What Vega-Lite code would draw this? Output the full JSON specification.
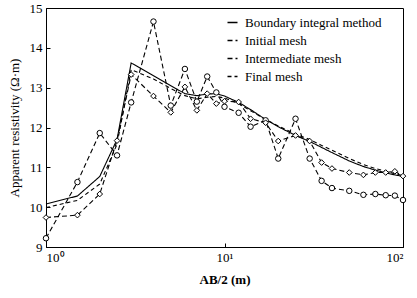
{
  "$schema": "https://vega.github.io/schema/vega-lite/v6.json",
  "width": 357,
  "height": 239,
  "autosize": "none",
  "padding": {"left": 46, "top": 8, "right": 14, "bottom": 51},
  "background": "white",
  "config": {
    "view": {"stroke": "black", "strokeWidth": 1},
    "font": "Liberation Serif",
    "axis": {"labelFont": "Liberation Serif", "titleFont": "Liberation Serif", "labelColor": "black", "titleColor": "black", "domainColor": "black", "tickColor": "black", "labelFontSize": 13, "titleFontSize": 13, "titleFontWeight": "normal", "grid": false, "tickSize": -4}
  },
  "datasets": {
    "d": [
      {"x": 1, "s": "Boundary integral method", "y": 10.08},
      {"x": 1.5, "s": "Boundary integral method", "y": 10.28},
      {"x": 2, "s": "Boundary integral method", "y": 10.77},
      {"x": 2.5, "s": "Boundary integral method", "y": 11.7},
      {"x": 3, "s": "Boundary integral method", "y": 13.62},
      {"x": 4, "s": "Boundary integral method", "y": 13.3},
      {"x": 5, "s": "Boundary integral method", "y": 13.05},
      {"x": 6, "s": "Boundary integral method", "y": 12.85},
      {"x": 7, "s": "Boundary integral method", "y": 12.8},
      {"x": 8, "s": "Boundary integral method", "y": 12.84},
      {"x": 9, "s": "Boundary integral method", "y": 12.85},
      {"x": 10, "s": "Boundary integral method", "y": 12.79},
      {"x": 12, "s": "Boundary integral method", "y": 12.63},
      {"x": 14, "s": "Boundary integral method", "y": 12.45},
      {"x": 17, "s": "Boundary integral method", "y": 12.2},
      {"x": 20, "s": "Boundary integral method", "y": 12.02},
      {"x": 25, "s": "Boundary integral method", "y": 11.8},
      {"x": 30, "s": "Boundary integral method", "y": 11.65},
      {"x": 35, "s": "Boundary integral method", "y": 11.5},
      {"x": 40, "s": "Boundary integral method", "y": 11.37},
      {"x": 50, "s": "Boundary integral method", "y": 11.16},
      {"x": 60, "s": "Boundary integral method", "y": 11.02},
      {"x": 70, "s": "Boundary integral method", "y": 10.93},
      {"x": 80, "s": "Boundary integral method", "y": 10.86},
      {"x": 90, "s": "Boundary integral method", "y": 10.81},
      {"x": 100, "s": "Boundary integral method", "y": 10.77},
      {"x": 1, "s": "Initial mesh", "y": 9.22},
      {"x": 1.5, "s": "Initial mesh", "y": 10.63},
      {"x": 2, "s": "Initial mesh", "y": 11.86},
      {"x": 2.5, "s": "Initial mesh", "y": 11.3},
      {"x": 3, "s": "Initial mesh", "y": 12.63},
      {"x": 4, "s": "Initial mesh", "y": 14.66},
      {"x": 5, "s": "Initial mesh", "y": 12.55},
      {"x": 6, "s": "Initial mesh", "y": 13.47},
      {"x": 7, "s": "Initial mesh", "y": 12.65},
      {"x": 8, "s": "Initial mesh", "y": 13.28},
      {"x": 9, "s": "Initial mesh", "y": 12.88},
      {"x": 10, "s": "Initial mesh", "y": 12.52},
      {"x": 12, "s": "Initial mesh", "y": 12.37},
      {"x": 14, "s": "Initial mesh", "y": 12.02},
      {"x": 17, "s": "Initial mesh", "y": 12.18},
      {"x": 20, "s": "Initial mesh", "y": 11.22},
      {"x": 25, "s": "Initial mesh", "y": 12.22},
      {"x": 30, "s": "Initial mesh", "y": 11.22},
      {"x": 35, "s": "Initial mesh", "y": 10.66},
      {"x": 40, "s": "Initial mesh", "y": 10.48},
      {"x": 50, "s": "Initial mesh", "y": 10.41},
      {"x": 60, "s": "Initial mesh", "y": 10.31},
      {"x": 70, "s": "Initial mesh", "y": 10.33},
      {"x": 80, "s": "Initial mesh", "y": 10.3},
      {"x": 90, "s": "Initial mesh", "y": 10.29},
      {"x": 100, "s": "Initial mesh", "y": 10.18},
      {"x": 1, "s": "Intermediate mesh", "y": 9.74},
      {"x": 1.5, "s": "Intermediate mesh", "y": 9.8},
      {"x": 2, "s": "Intermediate mesh", "y": 10.33},
      {"x": 2.5, "s": "Intermediate mesh", "y": 11.67},
      {"x": 3, "s": "Intermediate mesh", "y": 13.33},
      {"x": 4, "s": "Intermediate mesh", "y": 12.79},
      {"x": 5, "s": "Intermediate mesh", "y": 12.38},
      {"x": 6, "s": "Intermediate mesh", "y": 13.02},
      {"x": 7, "s": "Intermediate mesh", "y": 12.43},
      {"x": 8, "s": "Intermediate mesh", "y": 12.85},
      {"x": 9, "s": "Intermediate mesh", "y": 12.6},
      {"x": 10, "s": "Intermediate mesh", "y": 12.66},
      {"x": 12, "s": "Intermediate mesh", "y": 12.64},
      {"x": 14, "s": "Intermediate mesh", "y": 12.22},
      {"x": 17, "s": "Intermediate mesh", "y": 12.12},
      {"x": 20, "s": "Intermediate mesh", "y": 11.66},
      {"x": 25, "s": "Intermediate mesh", "y": 11.8},
      {"x": 30, "s": "Intermediate mesh", "y": 11.66},
      {"x": 35, "s": "Intermediate mesh", "y": 11.12},
      {"x": 40, "s": "Intermediate mesh", "y": 10.97},
      {"x": 50, "s": "Intermediate mesh", "y": 10.87},
      {"x": 60, "s": "Intermediate mesh", "y": 10.81},
      {"x": 70, "s": "Intermediate mesh", "y": 10.87},
      {"x": 80, "s": "Intermediate mesh", "y": 10.87},
      {"x": 90, "s": "Intermediate mesh", "y": 10.9},
      {"x": 100, "s": "Intermediate mesh", "y": 10.78},
      {"x": 1, "s": "Final mesh", "y": 9.99},
      {"x": 1.5, "s": "Final mesh", "y": 10.17},
      {"x": 2, "s": "Final mesh", "y": 10.58},
      {"x": 2.5, "s": "Final mesh", "y": 11.58},
      {"x": 3, "s": "Final mesh", "y": 13.45},
      {"x": 4, "s": "Final mesh", "y": 13.22},
      {"x": 5, "s": "Final mesh", "y": 12.98},
      {"x": 6, "s": "Final mesh", "y": 12.8},
      {"x": 7, "s": "Final mesh", "y": 12.72},
      {"x": 8, "s": "Final mesh", "y": 12.76},
      {"x": 9, "s": "Final mesh", "y": 12.78},
      {"x": 10, "s": "Final mesh", "y": 12.74},
      {"x": 12, "s": "Final mesh", "y": 12.6},
      {"x": 14, "s": "Final mesh", "y": 12.42},
      {"x": 17, "s": "Final mesh", "y": 12.2},
      {"x": 20, "s": "Final mesh", "y": 12.04},
      {"x": 25, "s": "Final mesh", "y": 11.83},
      {"x": 30, "s": "Final mesh", "y": 11.7},
      {"x": 35, "s": "Final mesh", "y": 11.55},
      {"x": 40, "s": "Final mesh", "y": 11.43},
      {"x": 50, "s": "Final mesh", "y": 11.22},
      {"x": 60, "s": "Final mesh", "y": 11.07},
      {"x": 70, "s": "Final mesh", "y": 10.97},
      {"x": 80, "s": "Final mesh", "y": 10.9},
      {"x": 90, "s": "Final mesh", "y": 10.84},
      {"x": 100, "s": "Final mesh", "y": 10.79}
    ]
  },
  "data": {"name": "d"},
  "encoding": {
    "x": {"field": "x", "type": "quantitative",
      "scale": {"type": "log", "domain": [1, 100], "nice": false},
      "axis": {"values": [1, 10, 100], "title": "AB/2 (m)", "titleFontWeight": "bold", "labelFlush": true, "labelPadding": 8, "titlePadding": 9,
        "labelExpr": "datum.value == 1 ? '10⁰' : datum.value == 10 ? '10¹' : '10²'"}},
    "y": {"field": "y", "type": "quantitative",
      "scale": {"domain": [9, 15], "nice": false, "zero": false},
      "axis": {"values": [9, 10, 11, 12, 13, 14, 15], "title": "Apparent resistivity (Ω·m)", "labelPadding": 8, "titlePadding": 8}}
  },
  "layer": [
    {
      "mark": {"type": "line", "color": "black", "strokeWidth": 1.1},
      "encoding": {
        "detail": {"field": "s"},
        "strokeDash": {"field": "s", "type": "nominal",
          "scale": {"domain": ["Boundary integral method", "Initial mesh", "Intermediate mesh", "Final mesh"], "range": [[1, 0], [5, 3], [5, 3], [4, 3]]},
          "legend": {
            "title": null, "orient": "none", "legendX": 180, "legendY": 8, "padding": 0,
            "symbolSize": 100, "labelFont": "Liberation Serif", "labelFontSize": 13, "labelColor": "black",
            "rowPadding": 4, "labelOffset": 6,
            "encode": {"symbols": {
              "shape": {"value": {"expr": "datum.value === 'Boundary integral method' ? 'M-3.8,0L1,0' : datum.value === 'Initial mesh' ? 'M-3.8,0L-2.9,0M0.1,0L1,0M-0.75,0L-0.837,0.325L-1.075,0.563L-1.4,0.65L-1.725,0.563L-1.963,0.325L-2.05,0L-1.963,-0.325L-1.725,-0.563L-1.4,-0.65L-1.075,-0.563L-0.837,-0.325Z' : datum.value === 'Intermediate mesh' ? 'M-3.8,0L-2.9,0M0.1,0L1,0M-1.4,-0.75L-0.7,0L-1.4,0.75L-2.1,0Z' : 'M-3.8,0L-3,0M-1.8,0L-1,0M0,0L1,0'"}},
              "strokeDash": {"value": [1, 0]},
              "fill": {"value": "transparent"},
              "stroke": {"value": "black"},
              "strokeWidth": {"value": 1},
              "opacity": {"value": 1}
            }}
          }}
      }
    },
    {
      "transform": [{"filter": "datum.s === 'Initial mesh'"}],
      "mark": {"type": "point", "shape": "circle", "filled": false, "fill": "white", "stroke": "black", "strokeWidth": 1, "opacity": 1, "size": 30}
    },
    {
      "transform": [{"filter": "datum.s === 'Intermediate mesh'"}],
      "mark": {"type": "point", "shape": "diamond", "filled": false, "fill": "white", "stroke": "black", "strokeWidth": 1, "opacity": 1, "size": 32}
    }
  ]
}
